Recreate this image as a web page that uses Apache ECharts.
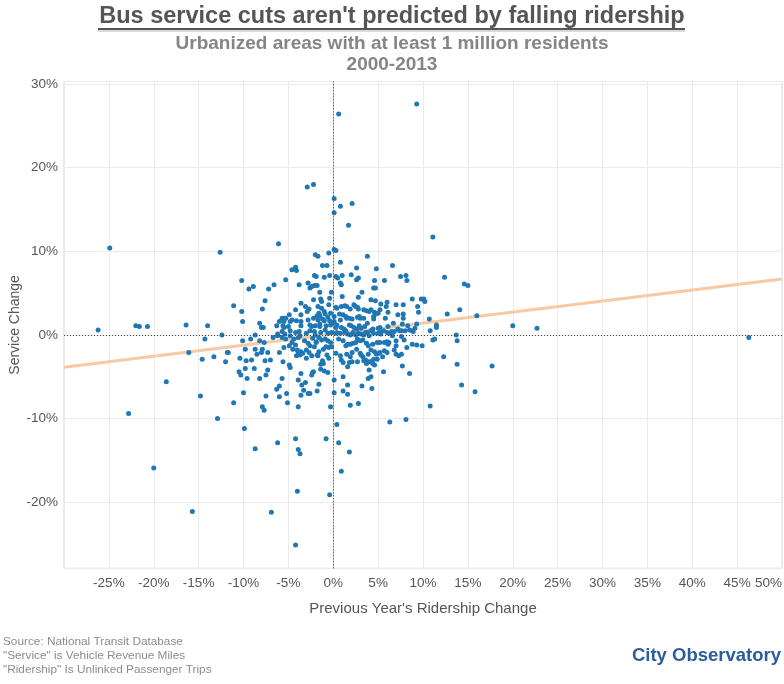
<!DOCTYPE html>
<html>
<head>
<meta charset="utf-8">
<script src="https://cdn.jsdelivr.net/npm/echarts@6/dist/echarts.min.js"></script>
<style>
html,body{margin:0;padding:0;background:#fff;}
#chart{width:784px;height:684px;}
</style>
</head>
<body>
<div id="chart"></div>
<script>
// [previous-year ridership change %, service change %]
const outerPoints = [[9.3,27.6],[0.6,26.4],[-2.2,18.0],[-2.9,17.7],[0.1,16.3],[2.1,15.7],[0.8,15.4],[0.1,14.6],[1.7,13.1],[11.1,11.7],[-24.9,10.4],[-12.6,9.9],[14.6,6.1],[15.0,5.9],[14.1,3.0],[16.0,2.3],[20.0,1.1],[22.7,0.8],[46.3,-0.3],[13.8,-0.7],[13.7,0.0],[13.8,-3.5],[17.7,-3.7],[14.3,-6.0],[15.8,-6.8],[-18.6,-5.6],[-22.8,-9.4],[-14.8,-7.3],[-12.9,-10.0],[-9.9,-11.2],[-8.7,-13.6],[-20.0,-15.9],[-6.2,-12.9],[-4.2,-12.4],[-3.9,-13.7],[-3.7,-14.2],[-0.8,-12.4],[0.6,-12.9],[1.8,-14.0],[0.9,-16.3],[-4.0,-18.7],[-0.4,-19.1],[-15.7,-21.1],[-6.9,-21.2],[-4.2,-25.1],[-26.2,0.6],[-22.0,1.1],[-21.6,1.0],[-20.7,1.0],[-16.4,1.2],[-14.0,1.1],[-12.4,0.0],[-14.3,-0.5],[-16.1,-2.1],[-14.6,-2.9],[-13.3,-2.6],[-11.8,-2.1],[-12.0,-3.2]];

const upperLeftPoints = [[-6.1,10.9],[0.1,10.2],[0.3,10.1],[-0.5,9.8],[-2.0,9.6],[-1.7,9.4],[-1.2,8.3],[-0.7,8.3],[-4.2,8.1],[-4.6,7.8],[-4.1,7.7],[-2.1,7.1],[-1.9,7.0],[-1.0,6.9],[-0.4,7.1],[-10.2,6.5],[-5.3,6.6],[-3.8,6.0],[-2.8,6.2],[-2.4,5.8],[-2.1,5.9],[-1.8,5.9],[-2.6,5.6],[-8.9,5.8],[-9.4,5.5],[-6.6,6.0],[-7.2,5.5],[-1.5,5.1],[-0.2,5.1],[-7.6,4.1],[-2.2,4.2],[-1.4,4.3],[-1.3,4.0],[-3.6,3.8],[-0.4,4.4],[-11.1,3.5],[-7.9,3.1],[-4.2,3.0],[-3.1,3.4],[-2.7,3.1],[-2.9,2.8],[-1.7,3.4],[-1.3,3.2],[-0.5,3.6],[0.3,3.3],[0.4,3.2],[-10.2,2.8],[-3.6,2.4],[-4.9,2.4],[-5.4,2.0],[-1.6,2.6],[-1.8,2.3],[-1.5,2.3],[-1.0,2.8],[-0.9,2.5],[-0.3,2.6],[0.1,2.2],[0.1,1.6],[-10.1,1.6],[-8.2,1.4],[-6.0,1.6],[-5.7,2.0],[-5.5,1.6],[-5.3,2.0],[-4.8,1.6],[-4.6,1.8],[-4.1,1.7],[-3.6,1.6],[-2.8,1.8],[-2.2,2.0],[-1.7,1.8],[-1.2,1.9],[-1.0,1.7],[-0.6,2.1],[-0.4,1.7],[-8.0,0.9],[-7.8,0.9],[-6.3,1.1],[-5.6,1.1],[-5.5,0.9],[-5.0,1.0],[-3.6,1.1],[-2.6,1.2],[-2.4,1.0],[-2.0,1.1],[-1.5,1.3],[-1.5,1.0],[-0.8,1.1],[-0.3,1.2],[-0.1,1.4],[0.4,1.2],[0.3,0.9]];

const lowerLeftPoints = [[-8.7,0.0],[-6.2,0.1],[-5.7,0.4],[-5.4,0.1],[-4.8,0.5],[-4.8,-0.1],[-4.2,0.3],[-3.8,0.4],[-3.0,0.2],[-2.6,0.5],[-2.1,0.4],[-2.0,0.0],[-1.4,0.3],[-0.9,0.6],[-0.6,0.2],[-0.2,0.3],[0.3,0.2],[-10.1,-0.7],[-9.2,-0.5],[-8.2,-0.7],[-7.7,-0.9],[-6.7,-0.3],[-6.2,-0.1],[-5.7,-0.3],[-5.3,-0.5],[-4.4,-0.5],[-3.9,-0.3],[-3.7,-0.1],[-3.2,-0.7],[-2.8,-1.0],[-2.3,-0.4],[-1.9,-0.8],[-1.6,-0.3],[-1.3,-0.6],[-0.9,-0.5],[-0.6,-0.7],[-0.3,-0.9],[-11.7,-2.1],[-9.8,-1.7],[-8.7,-1.7],[-8.5,-2.3],[-8.0,-2.1],[-7.9,-1.7],[-7.3,-2.1],[-6.0,-2.1],[-5.5,-1.5],[-4.9,-1.3],[-4.6,-0.9],[-4.5,-1.7],[-4.2,-1.2],[-4.0,-1.8],[-3.9,-2.1],[-3.6,-2.0],[-3.4,-2.2],[-3.0,-1.8],[-2.7,-2.1],[-2.6,-1.3],[-2.1,-1.4],[-1.9,-0.9],[-1.8,-2.4],[-1.6,-2.0],[-1.1,-1.7],[-0.8,-1.4],[-0.5,-1.5],[-0.2,-1.4],[-10.4,-2.8],[-9.7,-3.1],[-9.1,-3.0],[-7.6,-3.1],[-7.0,-3.0],[-5.6,-3.2],[-4.1,-2.5],[-3.7,-2.4],[-3.0,-2.8],[-2.4,-2.5],[-1.7,-2.5],[-1.2,-3.1],[-0.7,-2.4],[-0.5,-2.8],[-10.5,-4.4],[-10.3,-4.8],[-9.8,-4.0],[-8.8,-4.0],[-7.3,-4.2],[-7.5,-4.8],[-8.2,-5.2],[-9.6,-5.2],[-4.9,-3.6],[-4.8,-3.9],[-3.6,-4.6],[-2.3,-4.5],[-2.4,-4.8],[-2.2,-4.4],[-1.4,-4.1],[-1.4,-3.5],[-1.1,-3.4],[-1.0,-4.3],[-0.6,-4.5],[-6.0,-6.1],[-5.7,-5.2],[-3.9,-5.4],[-3.5,-6.0],[-3.1,-5.7],[-3.3,-6.6],[-1.6,-5.9],[0.1,-5.4],[-10.0,-6.9],[-6.3,-6.5],[-5.2,-7.0],[-3.6,-7.2],[-2.8,-7.0],[-2.6,-7.0],[-1.8,-6.7],[0.1,-6.9],[-11.1,-8.1],[-7.5,-7.3],[-6.0,-7.4],[-5.1,-8.1],[-7.9,-8.6],[-7.7,-9.0],[-3.9,-8.6],[-0.3,-8.6]];

const upperRightPoints = [[0.8,8.7],[3.8,9.4],[2.6,8.0],[4.8,7.9],[6.6,8.3],[0.3,7.0],[0.5,6.8],[1.0,7.1],[0.8,6.2],[0.9,6.0],[2.0,7.2],[2.6,6.6],[2.8,6.8],[4.6,6.5],[5.7,6.5],[7.5,7.0],[8.1,7.1],[8.2,6.5],[4.5,5.6],[4.7,5.6],[12.4,6.9],[1.0,4.6],[3.2,5.1],[2.8,4.5],[4.2,4.2],[4.7,4.1],[5.3,3.7],[6.0,3.9],[5.9,3.4],[7.0,3.6],[7.8,3.6],[8.8,4.3],[9.8,4.3],[10.1,4.3],[10.2,4.0],[9.4,3.4],[0.9,3.4],[1.3,3.5],[1.5,3.4],[1.9,3.1],[2.3,3.6],[2.5,3.4],[2.7,3.3],[2.8,3.1],[3.4,3.0],[3.7,2.9],[4.0,2.8],[4.2,3.0],[4.6,2.7],[4.7,2.5],[5.0,2.6],[5.2,3.0],[6.1,2.7],[7.2,2.4],[7.8,2.5],[7.8,2.0],[9.5,2.7],[0.7,2.5],[1.1,2.4],[1.4,2.2],[1.5,2.0],[0.8,1.8],[1.8,2.0],[2.1,1.9],[2.7,2.1],[2.9,2.2],[3.0,2.0],[3.4,2.0],[3.8,1.4],[4.5,2.2],[4.5,1.9],[5.8,2.0],[6.1,1.0],[6.7,1.4],[7.7,1.3],[8.3,1.1],[8.9,0.4],[9.3,1.3],[9.1,0.8],[8.8,0.5],[8.5,0.6],[10.7,1.9],[11.5,1.2],[11.5,0.9],[11.3,-0.5],[11.1,-0.6],[10.8,0.5],[12.7,2.5]];

const lowerRightPoints = [[0.9,0.9],[1.2,0.7],[1.4,0.5],[1.8,1.2],[2.0,1.1],[2.3,0.9],[2.6,0.7],[2.9,1.1],[3.1,0.8],[3.5,1.0],[3.8,0.3],[4.2,0.5],[4.4,0.7],[5.0,0.8],[5.2,0.9],[5.2,0.3],[5.3,0.1],[5.6,0.5],[6.0,0.3],[6.2,0.2],[6.5,0.4],[6.8,0.4],[7.2,0.7],[7.4,0.5],[7.6,0.5],[8.0,0.5],[0.4,0.3],[0.8,0.2],[1.3,0.3],[1.6,0.1],[1.9,0.0],[2.2,0.3],[2.5,0.0],[2.8,0.2],[3.1,0.1],[3.4,0.0],[3.6,0.3],[4.0,-0.1],[4.5,0.2],[5.0,0.2],[0.6,-0.5],[1.1,-0.7],[1.4,-1.3],[1.6,-1.1],[1.9,-1.1],[2.2,-1.0],[2.5,-0.9],[2.7,-0.5],[3.0,-0.7],[3.3,-0.6],[3.7,-1.0],[3.9,-1.3],[4.4,-1.1],[4.9,-0.9],[5.2,-0.9],[5.7,-0.9],[6.0,-0.8],[6.2,-0.9],[6.1,-1.1],[6.6,-0.1],[7.0,-0.7],[7.0,-1.3],[7.6,-0.2],[7.9,-0.6],[8.2,-1.5],[8.8,-1.1],[9.3,-1.2],[9.9,-1.3],[0.3,-2.2],[0.8,-2.5],[0.9,-3.0],[1.1,-3.3],[1.5,-2.3],[1.9,-2.6],[2.1,-2.1],[2.6,-1.7],[3.0,-2.2],[3.1,-2.4],[3.3,-2.6],[3.6,-3.0],[3.9,-2.3],[4.0,-3.2],[4.2,-1.8],[4.6,-2.0],[4.8,-2.3],[4.9,-2.9],[5.1,-2.2],[5.2,-2.1],[5.5,-2.6],[5.7,-1.9],[6.0,-2.1],[6.8,-1.8],[7.0,-2.3],[7.3,-2.5],[7.6,-2.3],[7.7,-3.7],[12.3,-2.6],[1.6,-3.8],[1.8,-3.3],[2.1,-3.2],[2.7,-3.2],[3.4,-3.1],[3.7,-3.4],[4.2,-3.2],[4.5,-2.9],[4.6,-3.6],[4.0,-4.2],[4.4,-3.4],[1.1,-5.0],[1.6,-6.0],[3.2,-6.1],[3.9,-5.2],[4.2,-5.0],[4.3,-6.4],[5.6,-4.4],[8.5,-4.6],[1.1,-6.7],[1.6,-7.1],[1.9,-8.4],[2.8,-8.2],[10.8,-8.5],[6.3,-10.4],[8.1,-10.1],[0.4,-10.7]];

const trendRidership = [-30, 50];
const trendService = [-3.87, 6.69];

const titleText = "Bus service cuts aren't predicted by falling ridership";
const subtitleLines = ["Urbanized areas with at least 1 million residents", "2000-2013"];
const footerLines = ["Source: National Transit Database", "\"Service\" is Vehicle Revenue Miles", "\"Ridership\" Is Unlinked Passenger Trips"];
const brandText = "City Observatory";
const xAxisTitle = "Previous Year's Ridership Change";
const yAxisTitle = "Service Change";

const allPoints = [].concat(outerPoints, upperLeftPoints, lowerLeftPoints, upperRightPoints, lowerRightPoints);
const trendData = trendRidership.map((x, i) => [x, trendService[i]]);

const FONT = "'Liberation Sans Narrow', 'Liberation Sans', sans-serif";
const FONT2 = "'Liberation Sans', sans-serif";

const chart = echarts.init(document.getElementById('chart'), null, {renderer: 'canvas'});
chart.setOption({
  animation: false,
  backgroundColor: '#ffffff',
  title: [
    {text: titleText, left: 'center', top: 5, padding: 0,
     textStyle: {fontFamily: FONT, fontSize: 23.5, fontWeight: 'bold', color: '#555555'}},
    {text: subtitleLines.join('\n'), left: 392, top: 33, padding: 0, textAlign: 'center',
     textStyle: {fontFamily: FONT, fontSize: 19, fontWeight: 'bold', color: '#858585', lineHeight: 21, align: 'center'}},
    {text: footerLines.join('\n'), left: 3, top: 635, padding: 0,
     textStyle: {fontFamily: FONT2, fontSize: 11.8, fontWeight: 'normal', color: '#8c8c8c', lineHeight: 14}},
    {text: brandText, right: 3, top: 646, padding: 0,
     textStyle: {fontFamily: FONT2, fontSize: 18.5, fontWeight: 'bold', color: '#2b5d9b'}}
  ],
  graphic: [
    {type: 'line', shape: {x1: 98, y1: 29, x2: 685, y2: 29}, style: {stroke: '#555555', lineWidth: 2}, silent: true},
    {type: 'line', shape: {x1: 98, y1: 31, x2: 685, y2: 31}, style: {stroke: '#b5b5b5', lineWidth: 1}, silent: true}
  ],
  grid: {left: 64, right: 2, top: 81.5, bottom: 115.7, show: true, borderColor: '#d6d6d6', borderWidth: 1,
         containLabel: false, outerBoundsMode: 'none'},
  xAxis: {
    type: 'value', min: -30, max: 50, interval: 5,
    axisLine: {show: false}, axisTick: {show: false},
    splitLine: {show: true, lineStyle: {color: '#ebebeb', width: 1}},
    axisLabel: {
      color: '#555555', fontFamily: FONT2, fontSize: 13.5, margin: 8,
      alignMaxLabel: 'right',
      formatter: v => (v === -30 ? '' : v + '%')
    },
    name: xAxisTitle, nameLocation: 'middle', nameGap: 33, nameMoveOverlap: false,
    nameTextStyle: {color: '#555555', fontFamily: FONT2, fontSize: 15}
  },
  yAxis: {
    type: 'value', min: -27.9, max: 30.3, splitNumber: 6, minInterval: 10, maxInterval: 10,
    axisLine: {show: true, lineStyle: {color: '#cccccc'}}, axisTick: {show: false},
    splitLine: {show: true, lineStyle: {color: '#ebebeb', width: 1}},
    axisLabel: {
      color: '#555555', fontFamily: FONT2, fontSize: 13.5, margin: 6,
      formatter: v => (Math.abs(v - Math.round(v / 10) * 10) < 1e-6 ? Math.round(v) + '%' : '')
    },
    name: yAxisTitle, nameLocation: 'middle', nameGap: 42, nameMoveOverlap: false,
    nameTextStyle: {color: '#555555', fontFamily: FONT2, fontSize: 14}
  },
  series: [
    {
      type: 'line', data: trendData, symbol: 'none', z: 1, silent: true,
      lineStyle: {color: '#f8c9a3', width: 3}
    },
    {
      type: 'scatter', data: allPoints, symbol: 'circle', symbolSize: 5, z: 3,
      itemStyle: {color: '#1f77b4', opacity: 1},
      markLine: {
        silent: true, symbol: ['none', 'none'], label: {show: false},
        lineStyle: {type: [1, 2], color: '#444444', width: 1},
        data: [{xAxis: 0}, {yAxis: 0}]
      }
    }
  ]
});
</script>
</body>
</html>
